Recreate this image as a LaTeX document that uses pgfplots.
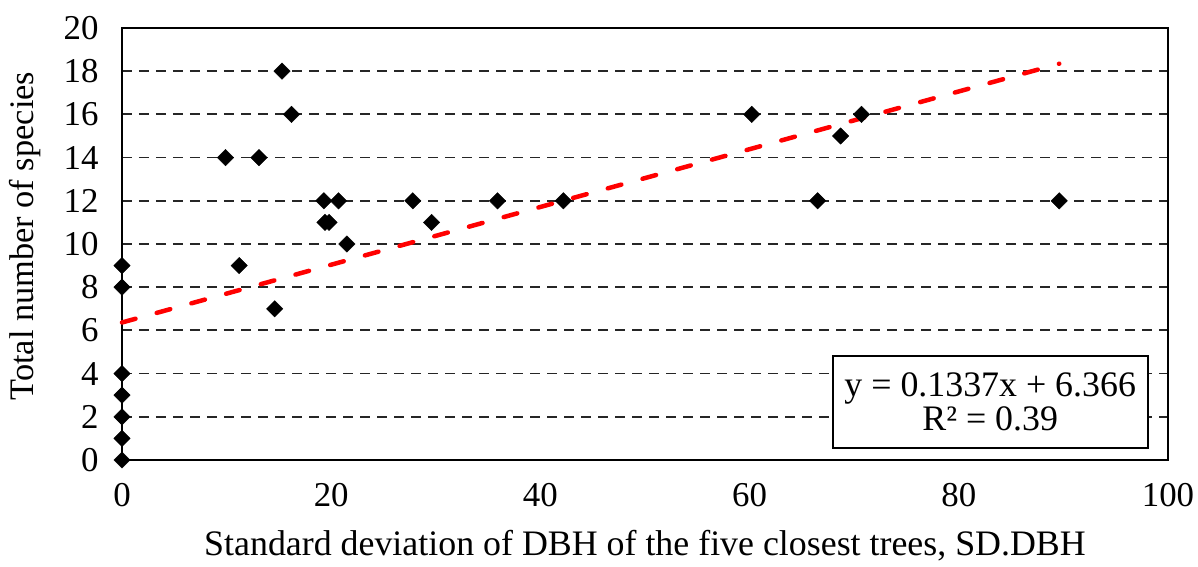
\documentclass[border=0pt]{standalone}
\usepackage{fontspec}
\setmainfont{Liberation Serif}
\usepackage{pgfplots}
\pgfplotsset{compat=1.18}
\pgfplotstableread{
x y
0 0
0 1
0 2
0 3
0 4
0 8
0 9
9.9 14
11.2 9
13.1 14
14.6 7
15.3 18
16.2 16
19.3 12
19.4 11
19.8 11
20.7 12
21.5 10
27.8 12
29.6 11
35.9 12
42.2 12
60.2 16
66.5 12
68.7 15
70.7 16
89.6 12
}\sddata
\begin{document}
\begin{tikzpicture}[x=1bp,y=1bp]
\path[use as bounding box] (-122,-107) rectangle (1076,460);
\begin{axis}[
    scale only axis,
    width=1046bp, height=432bp,
    xmin=0, xmax=100,
    ymin=0, ymax=20,
    xtick={0,20,...,100},
    ytick={0,2,...,20},
    tick style={draw=none},
    axis line style={line width=2bp},
    ymajorgrids,
    grid style={black!85, line width=1.8bp, dash pattern=on 10bp off 7bp},
    /pgf/number format/assume math mode=true,
    tick label style={font=\fontsize{35}{40}\selectfont},
    xticklabel style={yshift=-20bp},
    yticklabel style={xshift=-20bp},
    xlabel={Standard deviation of DBH of the five closest trees, SD.DBH},
    ylabel={Total number of species},
    xlabel style={font=\fontsize{36}{40}\selectfont,
        at={(axis description cs:0.5,-0.222)}, anchor=base},
    ylabel style={font=\fontsize{34.5}{40}\selectfont,
        at={(axis description cs:-0.0927,0.518)}, anchor=center},
    clip=false,
]
\addplot[red, line width=4.5bp, dash pattern=on 14bp off 22bp, line cap=round]
    coordinates {(0,6.366) (89.6,18.346)};
\addplot[only marks, mark=square*, mark size=5.8bp,
    mark options={rotate=45, fill=black, draw=black}] table {\sddata};
\node[draw, line width=2bp, fill=white, minimum width=315bp, minimum height=92.6bp,
    align=center, font=\fontsize{36}{34}\selectfont, inner sep=0pt]
    at (rel axis cs:0.83,0.134) {y = 0.1337x + 6.366\\R² = 0.39};
\end{axis}
\end{tikzpicture}
\end{document}
